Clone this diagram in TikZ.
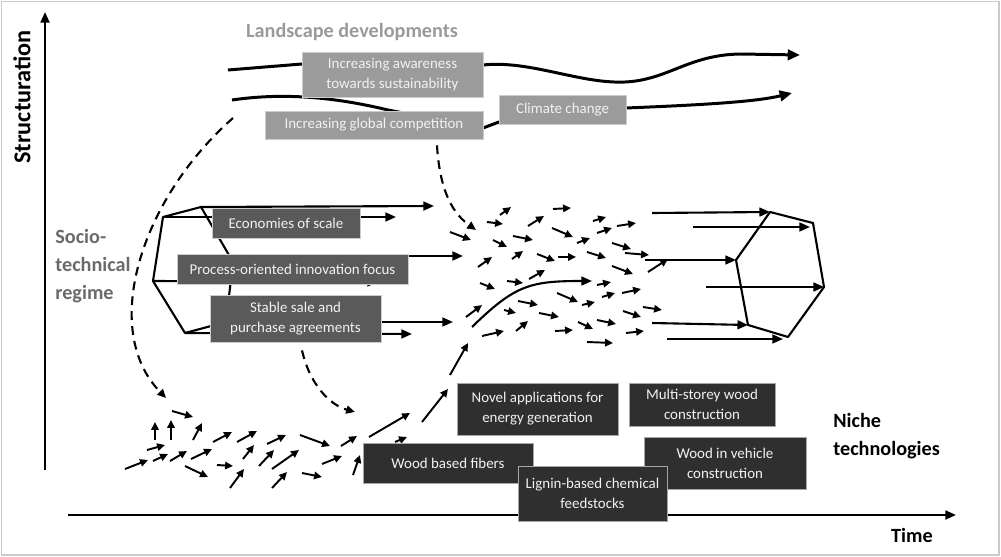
\documentclass[tikz,border=0pt]{standalone}
\usepackage{fontspec}
\setmainfont{Carlito}
\usetikzlibrary{arrows.meta}

\definecolor{landgray}{HTML}{9B9B9B}
\definecolor{reggray}{HTML}{5A5A5A}
\definecolor{nichegray}{HTML}{2F2F2F}
\definecolor{boxtext}{HTML}{F2F2F2}
\definecolor{labelgray}{HTML}{9A9A9A}
\definecolor{regimegray}{HTML}{6A6A6A}

\tikzset{
  landbox/.style={fill=landgray, draw=gray!40, line width=0.5pt, text=boxtext, inner sep=0pt, align=center, font=\fontsize{8.5}{11.3}\selectfont},
  regbox/.style={landbox, fill=reggray},
  nichebox/.style={landbox, fill=nichegray, draw=gray!70},
  landflow/.style={line width=1.7pt, -{Triangle[length=7pt,width=6pt]}},
  regflow/.style={line width=1.2pt, -{Triangle[length=6pt,width=5pt]}},
  tinyarrow/.style={line width=1.1pt, -{Triangle[length=4.5pt,width=4.2pt]}},
  dashflow/.style={line width=1.2pt, dash pattern=on 5pt off 3.5pt, -{Triangle[length=5pt,width=4.5pt]}},
  axisline/.style={line width=1.3pt, -{Triangle[length=6pt,width=5pt]}},
  bigword/.style={font=\fontsize{11.5}{15.8}\selectfont\bfseries, inner sep=0pt},
}

\begin{document}
\begin{tikzpicture}[x=0.02cm, y=-0.02cm]
  \useasboundingbox (0,0) rectangle (1001,557);
  \draw[gray!40, line width=0.8pt] (1.5,1.5) rectangle (999,555);

  %%%%% axes
  \coordinate (origin) at (45,470);
  \coordinate (ytop) at (45,12);
  \coordinate (xleft) at (68,515);
  \coordinate (xright) at (956,515);
  \draw[axisline] (origin) -- (ytop);
  \draw[axisline] (xleft) -- (xright);
  \node[bigword, font=\fontsize{13.8}{16}\selectfont\bfseries, rotate=90] (structuration) at (22,97) {Structuration};
  \node[bigword] (time) at (912,535) {Time};
  \node[bigword, align=left, anchor=west] (niche) at (833,436) {Niche\\technologies};
  \node[bigword, align=left, anchor=west, text=regimegray] (regime) at (55,266) {Socio-\\technical\\regime};
  \node[bigword, text=labelgray] (landscape) at (352,32) {Landscape developments};

  %%%%% landscape
  \draw[landflow] (228,70) .. controls (265,67) .. (302,64) -- (483,65)
    .. controls (530,60) and (580,84) .. (625,82)
    .. controls (668,80) and (688,55) .. (740,54) -- (800,55);
  \draw[landflow] (232,100) .. controls (280,93) and (330,96) .. (388,110)
    -- (483,128) -- (499,122) -- (626,108)
    .. controls (700,105) and (755,102) .. (792,93);

  \node[landbox, minimum width=3.62cm, minimum height=0.9cm] (aware) at (392.5,74.5) {Increasing awareness\\towards sustainability};
  \node[landbox, minimum width=4.36cm, minimum height=0.56cm] (global) at (374,125) {Increasing global competition};
  \node[landbox, minimum width=2.54cm, minimum height=0.58cm] (climate) at (562.5,109.5) {Climate change};

  %%%%% pressure on regime and niches
  \coordinate (landleft) at (233,118);
  \draw[dashflow] (landleft) .. controls (140,200) and (100,330) .. (166,398);
  \draw[dashflow] ([xshift=1.26cm,yshift=-0.12cm]global.south) .. controls (440,195) and (455,215) .. (476,230);

  %%%%% regime
  \coordinate (lA) at (153,281);
  \coordinate (lB) at (163,217);
  \coordinate (lC) at (201,207);
  \coordinate (lF) at (233,262);
  \coordinate (lG) at (226,322);
  \coordinate (lD) at (185,333);
  \draw[line width=1.2pt, line join=round] (lA) -- (lB) -- (lC) -- (lF) -- (lG) -- (lD) -- cycle;

  \draw[regflow] (lC) -- (434,206);
  \draw[regflow] (lB) -- (396,217);
  \draw[regflow] (240,256) -- (463,256);
  \draw[regflow] (lA) -- (378,282);
  \draw[regflow] (lG) -- (453,322);
  \draw[regflow] (lD) -- (412,334);

  \node[regbox, minimum width=2.96cm, minimum height=0.6cm] (scale) at (286,223) {Economies of scale};
  \node[regbox, minimum width=4.62cm, minimum height=0.6cm] (process) at (292.5,269) {Process-oriented innovation focus};
  \node[regbox, minimum width=3.42cm, minimum height=0.94cm] (stable) at (295.5,318.5) {Stable sale and\\purchase agreements};

  \draw[dashflow] ([xshift=0.13cm,yshift=-0.16cm]stable.south) .. controls (310,385) and (330,405) .. (355,412);

  %%%%% new regime
  \coordinate (rP1) at (770,212);
  \coordinate (rP2) at (813,223);
  \coordinate (rP3) at (824,287);
  \coordinate (rP4) at (788,337);
  \coordinate (rP5) at (748,325);
  \coordinate (rP6) at (736,260);
  \draw[line width=1.2pt, line join=round] (rP1) -- (rP2) -- (rP3) -- (rP4) -- (rP5) -- (rP6) -- cycle;

  \draw[regflow] (652,213) -- (rP1);
  \draw[regflow] (693,227) -- (810,227);
  \draw[regflow] (645,260) -- (rP6);
  \draw[regflow] (706,287) -- (rP3);
  \draw[regflow] (652,323) -- (rP5);
  \draw[regflow] (667,339) -- (783,339);

  \draw[regflow] (472,327) .. controls (515,285) and (530,281) .. (592,281);

  %%%%% small arrows
  \foreach \xa/\ya/\xb/\yb in {450/232/471/240, 487/222/503/224, 500/215/511/207, 493/240/507/247,
    478/267/492/257, 513/236/533/240, 528/226/544/216, 553/209/571/208, 512/259/523/251,
    537/254/555/261, 552/228/573/237, 558/257/576/257, 577/243/590/238, 593/221/606/217,
    597/233/612/228, 617/226/636/223, 587/252/606/258, 612/243/631/249, 625/253/649/255,
    612/266/633/274, 648/272/668/259, 480/283/495/289, 507/281/523/283, 529/279/545/270,
    597/285/611/282, 602/297/615/293, 622/293/641/289, 466/317/482/305, 504/310/516/313,
    518/301/538/305, 557/293/578/302, 539/313/559/317, 582/305/595/302, 623/311/641/317,
    643/307/662/310, 482/336/504/331, 516/331/528/321, 578/322/593/329, 597/320/616/324,
    555/331/573/330, 626/333/644/331, 587/342/613/343}
    \draw[tinyarrow] (\xa,\ya) -- (\xb,\yb);

  \foreach \xa/\ya/\xb/\yb in {172/411/193/417, 155/440/155/422, 171/440/171/420, 193/440/202/423,
    147/450/165/445, 125/469/148/460, 153/461/168/454, 170/461/187/451, 185/466/208/477,
    191/459/212/449, 213/442/232/432, 237/442/257/431, 217/465/233/466, 243/459/254/445,
    230/488/244/469, 259/466/274/450, 272/469/299/450, 272/488/287/472, 267/444/286/435,
    300/435/330/446, 302/473/322/477, 322/464/342/456, 341/446/357/436, 353/475/360/455,
    395/442/407/437}
    \draw[tinyarrow] (\xa,\ya) -- (\xb,\yb);

  \draw[tinyarrow] (369,437) -- (410,413);
  \draw[tinyarrow] (422,422) -- (448,389);
  \draw[tinyarrow] (450,375) -- (468,343);

  %%%%% niches
  \node[nichebox, minimum width=3.4cm, minimum height=0.8cm] (fibers) at (448,463) {Wood based fibers};
  \node[nichebox, minimum width=3.22cm, minimum height=1.04cm] (energy) at (537.5,409) {Novel applications for\\energy generation};
  \node[nichebox, minimum width=2.92cm, minimum height=0.86cm] (storey) at (702,404.5) {Multi-storey wood\\construction};
  \node[nichebox, minimum width=3.24cm, minimum height=1.04cm] (vehicle) at (725,463) {Wood in vehicle\\construction};
  \node[nichebox, minimum width=2.98cm, minimum height=1.1cm] (lignin) at (592.5,493.5) {Lignin-based chemical\\feedstocks};
\end{tikzpicture}
\end{document}
